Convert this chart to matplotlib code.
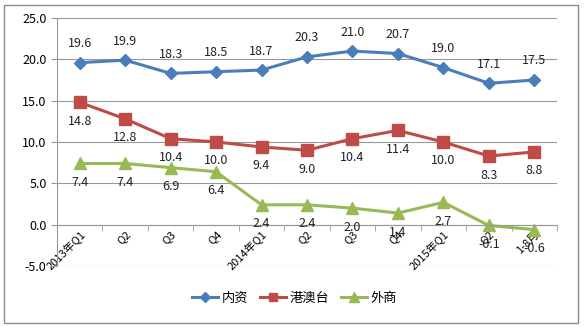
import matplotlib
matplotlib.use('Agg')
import matplotlib.pyplot as plt
from matplotlib.patches import Rectangle
import numpy as np

plt.rcParams['font.family'] = ['Noto Sans CJK SC', 'DejaVu Sans']

# data
categories = ['2013年Q1', 'Q2', 'Q3', 'Q4', '2014年Q1', 'Q2', 'Q3', 'Q4',
              '2015年Q1', 'Q2', '1-8月']
neizi = [19.6, 19.9, 18.3, 18.5, 18.7, 20.3, 21.0, 20.7, 19.0, 17.1, 17.5]
gangaotai = [14.8, 12.8, 10.4, 10.0, 9.4, 9.0, 10.4, 11.4, 10.0, 8.3, 8.8]
waishang = [7.4, 7.4, 6.9, 6.4, 2.4, 2.4, 2.0, 1.4, 2.7, -0.1, -0.6]
series_names = ['内资', '港澳台', '外商']

fig = plt.figure(figsize=(5.84, 3.27), dpi=100)
ax = fig.add_axes([57 / 584, 1 - 266 / 327, 500 / 584, 248 / 327])

# outer frame
fig.patches.append(Rectangle((4 / 584, 4 / 327), 574 / 584, 318 / 327,
                             transform=fig.transFigure, fill=False,
                             edgecolor='#8c8c8c', linewidth=1))

x = np.arange(len(categories))
ax.plot(x, neizi, color='#4a7ebb', marker='D', markersize=6, linewidth=2.2, label=series_names[0])
ax.plot(x, gangaotai, color='#be4b48', marker='s', markersize=8, linewidth=2.2, label=series_names[1])
ax.plot(x, waishang, color='#98b954', marker='^', markersize=9, linewidth=2.2, label=series_names[2])

for i in x:
    ax.annotate(f'{neizi[i]:.1f}', (i, neizi[i]), xytext=(0, 9), textcoords='offset points',
                ha='center', va='bottom', fontsize=9, color='#222222')
    ax.annotate(f'{gangaotai[i]:.1f}', (i, gangaotai[i]), xytext=(0, -9), textcoords='offset points',
                ha='center', va='top', fontsize=9, color='#222222')
    ax.annotate(f'{waishang[i]:.1f}', (i, waishang[i]), xytext=(0, -9), textcoords='offset points',
                ha='center', va='top', fontsize=9, color='#222222')

ax.set_xlim(-0.5, len(categories) - 0.5)
ax.set_ylim(-5, 25)
ax.set_yticks(np.arange(-5, 26, 5))
ax.set_yticklabels([f'{v:.1f}' for v in np.arange(-5, 26, 5)], fontsize=9)
ax.grid(axis='y', color='#999999', linewidth=0.8)
ax.set_axisbelow(True)

for s in ['top', 'right']:
    ax.spines[s].set_visible(False)
ax.spines['left'].set_color('#999999')
ax.spines['bottom'].set_position(('data', 0))
ax.spines['bottom'].set_color('#999999')

ax.set_xticks(x)
ax.set_xticklabels(categories, rotation=45, ha='right', rotation_mode='anchor', fontsize=8)
ax.set_xticks(np.arange(-0.5, len(categories), 1), minor=True)
ax.tick_params(axis='x', which='major', length=0, pad=3)
ax.tick_params(axis='x', which='minor', length=4, color='#999999')
ax.tick_params(axis='y', length=4, color='#999999')

ax.legend(loc='center', bbox_to_anchor=(0.475, -0.13), ncol=3, frameon=False,
          fontsize=9.5, handlelength=2.0, columnspacing=0.9, handletextpad=0.25,
          markerscale=0.8)

fig.savefig('out.png', dpi=100)
